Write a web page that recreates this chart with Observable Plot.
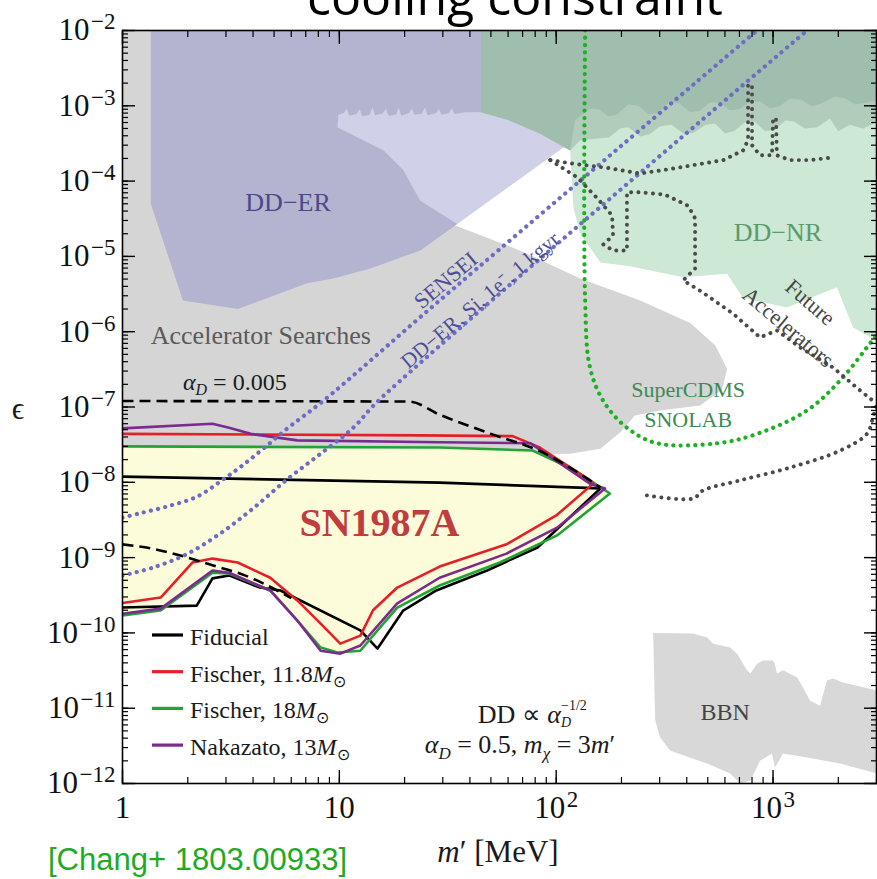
<!DOCTYPE html>
<html><head><meta charset="utf-8">
<script src="https://cdn.jsdelivr.net/npm/d3@7"></script>
<script src="https://cdn.jsdelivr.net/npm/@observablehq/plot@0.6"></script>
<style>
body{margin:0;background:#fff;}
#chart{position:relative;width:877px;height:879px;overflow:hidden;}
</style>
</head><body><div id="chart"></div>
<script>
// ---------- data: [m' (MeV), epsilon] ----------
const acceleratorSearches = [[1,1e-2],[34,1e-2],[34,2.6e-5],[68,1.2e-5],[129,5.1e-6],[244,2.6e-6],[415,1.3e-6],[541,6.6e-7],[614,3.2e-7],[582,1.7e-7],[461,1.05e-7],[301,9e-8],[231,7.7e-8],[197,4.6e-8],[160,2.8e-8],[116,2.4e-8],[29,2.3e-8],[1,2.3e-8]];
const bbn = [[280,1.0e-10],[428,9.8e-11],[497,8.7e-11],[529,7.2e-11],[634,6.4e-11],[683,5.3e-11],[759,3.2e-11],[787,2.9e-11],[844,3.9e-11],[899,4.3e-11],[1000,4.3e-11],[1021,3.8e-11],[1042,2.9e-11],[1112,3.2e-11],[1291,2.56e-11],[1375,1.88e-11],[1482,1.26e-11],[1648,1.08e-11],[1774,2.33e-11],[1890,2.48e-11],[2100,2.19e-11],[3000,1.72e-11],[3000,1.36e-12],[2040,1.85e-12],[1435,2.22e-12],[1112,2.5e-12],[1021,1.63e-12],[989,2.5e-12],[871,2.0e-12],[787,1.1e-12],[705,1e-12],[634,1.36e-12],[497,1.85e-12],[415,2.2e-12],[335,2.74e-12],[301,4.1e-12],[286,6.9e-12]];
const ddErMain = [[1.35,1e-2],[45,1e-2],[45,2.55e-4],[35,2.7e-5],[23.6,1.2e-5],[13.9,6.9e-6],[9.4,5.1e-6],[7.1,4.4e-6],[3.4,2.0e-6],[1.9,2.6e-6],[1.35,5e-5]];
const ddErExtended = [[9.8,5.2e-4],[9.9,7.6e-4],[10.5,8.0e-4],[10.8,9.3e-4],[11.1,7.4e-4],[12,7.8e-4],[12.4,9.0e-4],[12.8,7.2e-4],[13.8,7.6e-4],[14.2,9.6e-4],[14.6,7.5e-4],[15.8,7.9e-4],[16.4,9.1e-4],[16.9,7.3e-4],[18.3,7.7e-4],[18.8,9.4e-4],[19.3,7.4e-4],[21,8.0e-4],[21.6,9.2e-4],[22.2,7.6e-4],[24,7.9e-4],[24.8,9.5e-4],[25.5,7.5e-4],[28,8.0e-4],[28.8,9.1e-4],[29.6,7.6e-4],[32,8.0e-4],[33,9.3e-4],[34,7.8e-4],[38,8.2e-4],[45,8.2e-4],[160,8.2e-4],[160,2.55e-4],[108,2.8e-4],[35,2.7e-5],[23.6,5.5e-5],[19.7,1.4e-4],[16,2.55e-4]];
const ddNrLight = [[116,1.2e-3],[3000,1.2e-3],[3000,7.6e-7],[2340,1.14e-6],[1970,3.9e-6],[1160,2.1e-6],[727,2.8e-6],[614,5.9e-6],[385,5.3e-6],[219,7.4e-6],[160,8.3e-6],[129,2e-5],[120,4.5e-5],[116,2.55e-4]];
const ddNrBand = [[45,1e-2],[3000,1e-2],[3000,6e-4],[2600,5.0e-4],[2260,5.6e-4],[2000,4.6e-4],[1830,6.8e-4],[1600,5.2e-4],[1400,5e-4],[1250,6.2e-4],[1140,6.4e-4],[1020,4.8e-4],[920,4.6e-4],[820,6.2e-4],[740,6e-4],[660,4.6e-4],[600,4.3e-4],[540,5.8e-4],[490,5.6e-4],[430,4.4e-4],[390,4.2e-4],[340,5.6e-4],[300,5.3e-4],[270,4.2e-4],[244,3.9e-4],[215,5.2e-4],[197,5e-4],[175,3.8e-4],[160,3.7e-4],[129,3.5e-4],[116,2.55e-4],[84,4.3e-4],[60,6.5e-4],[45,8.2e-4]];
const ddNrDark = [[45,1e-2],[3000,1e-2],[3000,1.17e-3],[2650,1.1e-3],[2390,1.04e-3],[2150,1.25e-3],[1930,1.33e-3],[1700,1.1e-3],[1510,9.8e-4],[1350,1.2e-3],[1200,1.25e-3],[1080,1.0e-3],[970,9.2e-4],[870,1.15e-3],[770,1.11e-3],[700,9.0e-4],[630,8.7e-4],[570,1.1e-3],[510,1.11e-3],[460,8.6e-4],[415,8.2e-4],[370,1.08e-3],[330,1.11e-3],[295,8.0e-4],[265,7.7e-4],[240,1.0e-3],[215,1.04e-3],[190,7.6e-4],[174,7.2e-4],[158,9.0e-4],[143,9.2e-4],[122,6.4e-4],[116,2.55e-4],[84,4.3e-4],[60,6.5e-4],[45,8.2e-4]];

// SN1987A cooling contours (upper branch to tip, then lower branch back)
const fiducial = [[1,1.19e-8],[29,9.9e-9],[160,8.3e-9],[82,1.36e-9],[48,6.75e-10],[28,3.66e-10],[19.7,1.98e-10],[15,6.2e-11],[12.5,1.08e-10],[5.35,3.66e-10],[4.3,4.0e-10],[3.1,5.8e-10],[2.6,5.3e-10],[2.2,2.3e-10],[1,2.17e-10]];
const fischer118 = [[1,4.4e-8],[23.6,4.2e-8],[63,4.1e-8],[84,2.9e-8],[143,1.06e-8],[148,9.6e-9],[101,3.7e-9],[59,1.5e-9],[29,7.6e-10],[18.5,4.0e-10],[14.3,2.0e-10],[12.5,9.2e-11],[10.1,7.2e-11],[8.2,1.33e-10],[6.4,2.7e-10],[4.8,5.4e-10],[3.4,8.6e-10],[2.6,9.7e-10],[2.1,8.6e-10],[1.5,2.95e-10],[1,2.5e-10]];
const fischer18 = [[1,3.0e-8],[29,2.9e-8],[78,2.64e-8],[122,1.44e-8],[177,7.1e-9],[101,1.97e-9],[55,8.6e-10],[29,4.26e-10],[18.5,2.17e-10],[15,1.08e-10],[12.5,5.8e-11],[9.8,5.5e-11],[8.2,6.4e-11],[6.4,1.46e-10],[4.8,3.66e-10],[3.1,6.15e-10],[2.6,6.3e-10],[1.5,1.98e-10],[1,1.7e-10]];
const nakazato13 = [[1,5.2e-8],[2.6,6.0e-8],[3.1,5.3e-8],[3.9,4.4e-8],[6.4,3.6e-8],[29,3.4e-8],[76,3.3e-8],[143,9.6e-9],[168,8.3e-9],[101,2.5e-9],[59,1.13e-9],[29,5.4e-10],[18.5,2.46e-10],[12.5,6.8e-11],[10.1,5.3e-11],[8.2,5.8e-11],[6.4,1.46e-10],[4.8,3.66e-10],[3.1,6.3e-10],[2.6,6.75e-10],[1.5,2.1e-10],[1,1.8e-10]];

// alpha_D = 0.005 dashed contour pieces
const alphaSmallUpper = [[1,1.2e-7],[21,1.18e-7],[29,7.9e-8],[50,4.4e-8],[84,2.6e-8],[143,1.06e-8],[160,8.5e-9]];
const alphaSmallLower = [[1,1.5e-9],[1.4,1.3e-9],[2,1.0e-9],[2.8,7.4e-10],[3.5,6.1e-10],[6,2.9e-10]];

// projections (dotted)
const sensei = [[1,3.4e-9],[1.21,3.9e-9],[1.66,4.9e-9],[2.22,6.5e-9],[2.83,1.03e-8],[3.5,1.6e-8],[4.46,2.8e-8],[5.76,5.2e-8],[8.35,1.18e-7],[29,2.6e-6],[844,1e-2]];
const ddErSi = [[1,5.8e-10],[1.39,7.4e-10],[2,1.13e-9],[2.83,2.1e-9],[4,4.5e-9],[5.76,1.1e-8],[8.2,2.4e-8],[11.6,5.3e-8],[15,1.18e-7],[1435,1e-2]];
const superCdms = [[136,1e-2],[136,2.6e-6],[143,3.4e-7],[165,1.2e-7],[212,5.3e-8],[292,3.3e-8],[552,3.3e-8],[844,4.4e-8],[1435,9e-8],[2040,2.25e-7],[2800,7e-7],[3000,9e-7]];
const futureAccA = [[94,1.9e-4],[120,1.7e-4],[172,1.5e-4],[244,1.26e-4],[346,1.47e-4],[589,1.9e-4],[727,2.55e-4],[767,3.5e-4],[767,1.9e-3],[800,1.9e-3],[800,3.0e-4],[871,2.2e-4],[989,2.2e-4],[1000,6.8e-4],[1032,6.8e-4],[1042,2.2e-4],[1200,1.9e-4],[1480,1.9e-4],[1890,2.06e-4]];
const futureAccB = [[94,1.9e-4],[125,1.12e-4],[154,6.0e-5],[181,3.5e-5],[183,1.9e-5],[165,1.44e-5],[183,1.2e-5],[212,1.2e-5],[212,7.1e-5],[244,7.1e-5],[318,6.6e-5],[406,4.7e-5],[437,3.2e-5],[437,6.9e-6],[385,4.8e-6],[461,3.5e-6],[654,1.74e-6],[871,8.4e-7],[1042,1.04e-6],[1330,6.2e-7],[1890,3.35e-7],[2520,1.66e-7],[3000,1.11e-7]];
const futureAccC = [[262,6.7e-9],[428,6.1e-9],[476,7.8e-9],[705,1.06e-8],[1200,1.57e-8],[2040,2.64e-8],[2710,4.4e-8],[2890,7.3e-8],[3000,1.05e-7]];

// labels
const labelNames = ["DD−ER","DD−NR","Accelerator Searches","SENSEI","DD−ER, Si, 1e⁻, 1 kgyr","Future","Accelerators","SuperCDMS","SNOLAB","BBN","SN1987A"];
const labelMass  = [5.8, 1054, 1.35, 31, 44.6, 1482, 1172, 406, 406, 601, 15.3];
const labelEps   = [5.2e-5, 2.07e-5, 8.9e-7, 4.8e-6, 2.6e-6, 2.44e-6, 1.14e-6, 1.66e-7, 6.8e-8, 8.8e-12, 2.84e-9];
const alphaSmallNote = [1.91, 1.66e-7];
const ddScalingNote = [43.7, 6.3e-12];
const benchmarkNote = [24.9, 2.5e-12];

// legend
const legendNames = ["Fiducial", "Fischer, 11.8", "Fischer, 18", "Nakazato, 13"];
const legendSolarMass = [false, true, true, true];

// axes
const xTickValues = [1, 10, 100, 1000];
const xTickLabels = ["1", "10", "10^2", "10^3"];
const yTickValues = [1e-2,1e-3,1e-4,1e-5,1e-6,1e-7,1e-8,1e-9,1e-10,1e-11,1e-12];
const yTickExponents = ["−2","−3","−4","−5","−6","−7","−8","−9","−10","−11","−12"];

// ---------- styles ----------
const serif = "'Liberation Serif','Times New Roman',serif";
const cBlack = "#000", cRed = "#e41f26", cGreen = "#22a336", cPurple = "#7b2a8e";
const cBlueDot = "#6d6dc4", cGreenDot = "#1db020", cGrayDot = "#4a4a4a";
const legendColors = [cBlack, cRed, cGreen, cPurple];

const X = d => d[0], Y = d => d[1];
const poly = (data, fill) => Plot.line(data, {x: X, y: Y, fill, stroke: "none", clip: true});
const solid = (data, stroke) => Plot.line(data, {x: X, y: Y, stroke, strokeWidth: 2.6, strokeLinejoin: "round", clip: true});
const dotted = (data, stroke, curve = "catmull-rom", w = 4.2) => Plot.line(data, {x: X, y: Y, stroke, strokeWidth: w, strokeDasharray: "0.1 7.2", strokeLinecap: "round", curve, clip: true});
const dashed = data => Plot.line(data, {x: X, y: Y, stroke: "black", strokeWidth: 2.6, strokeDasharray: "11 6", strokeLinecap: "butt", curve: "monotone-x", clip: true});
const lab = (i, opts) => Plot.text([i], {x: j => labelMass[j], y: j => labelEps[j], text: j => labelNames[j], fontFamily: serif, lineAnchor: "middle", ...opts});

const plot = Plot.plot({
  width: 877, height: 879,
  marginLeft: 122, marginRight: 1, marginTop: 30, marginBottom: 96,
  style: {fontFamily: serif, background: "white", overflow: "visible"},
  x: {type: "log", domain: [1, 3000], label: null},
  y: {type: "log", domain: [1e-12, 1e-2], label: null},
  marks: [
    poly(acceleratorSearches, "#d5d5d5"),
    poly(bbn, "#d8d8d8"),
    poly(ddErMain, "#b4b4d0"),
    poly(ddErExtended, "#d0d0e9"),
    poly(ddNrLight, "#cde8d4"),
    poly(ddNrBand, "#b2ccbc"),
    poly(ddNrDark, "#a0bead"),
    poly(fischer18, "#fdfcda"),
    solid(fiducial, cBlack),
    solid(fischer18, cGreen),
    solid(fischer118, cRed),
    solid(nakazato13, cPurple),
    dashed(alphaSmallUpper),
    dashed(alphaSmallLower),
    dotted(sensei, cBlueDot),
    dotted(ddErSi, cBlueDot),
    dotted(superCdms, cGreenDot),
    dotted(futureAccA, cGrayDot, "linear", 3.9),
    dotted(futureAccB, cGrayDot, "linear", 3.9),
    dotted(futureAccC, cGrayDot, "catmull-rom", 3.9),
    lab(0, {fill: "#4a4a8a", fontSize: 26}),
    lab(1, {fill: "#5b9a6c", fontSize: 26}),
    lab(2, {fill: "#5a5a5a", fontSize: 26, textAnchor: "start"}),
    lab(3, {fill: "#4d4d96", fontSize: 22, rotate: -40}),
    lab(4, {fill: "#4d4d96", fontSize: 21, rotate: -40}),
    lab(5, {fill: "#444", fontSize: 22, rotate: 41}),
    lab(6, {fill: "#444", fontSize: 22, rotate: 40}),
    lab(7, {fill: "#3d8a52", fontSize: 22}),
    lab(8, {fill: "#3d8a52", fontSize: 22}),
    lab(9, {fill: "#444", fontSize: 24}),
    lab(10, {fill: "#c13c3e", fontSize: 40, fontWeight: "bold"}),
    // minor ticks (inward)
    Plot.axisX({anchor: "bottom", ticks: 40, tickSize: -6, tickFormat: () => "", label: null, strokeWidth: 1.2}),
    Plot.axisX({anchor: "top", ticks: 40, tickSize: -6, tickFormat: () => "", label: null, strokeWidth: 1.2}),
    Plot.axisY({anchor: "left", ticks: 40, tickSize: -6, tickFormat: () => "", label: null, strokeWidth: 1.2}),
    Plot.axisY({anchor: "right", ticks: 40, tickSize: -6, tickFormat: () => "", label: null, strokeWidth: 1.2}),
    // major ticks (inward)
    Plot.axisX(xTickValues, {anchor: "top", tickSize: -13, tickFormat: () => "", label: null, strokeWidth: 1.4}),
    Plot.axisY(yTickValues, {anchor: "right", tickSize: -13, tickFormat: () => "", label: null, strokeWidth: 1.4}),
    Plot.axisX(xTickValues, {anchor: "bottom", tickSize: -13, tickFormat: () => "", label: null, strokeWidth: 1.4}),
    Plot.axisY(yTickValues, {anchor: "left", tickSize: -13, tickFormat: () => "", label: null, strokeWidth: 1.4}),
    // tick labels
    Plot.axisX(xTickValues, {anchor: "bottom", tickSize: 0, tickPadding: 12, fontSize: 31, fontFamily: serif, fill: "#111",
      tickFormat: d => xTickLabels[xTickValues.indexOf(d)], label: null}),
    Plot.axisY(yTickValues, {anchor: "left", tickSize: 0, tickPadding: 7, fontSize: 31, fontFamily: serif, fill: "#111",
      tickFormat: d => "10^" + yTickExponents[yTickValues.indexOf(d)], label: null}),
    Plot.frame({stroke: "black", strokeWidth: 1.6})
  ]
});

document.getElementById("chart").append(plot);
const svg = d3.select(plot);

// serif tick labels with superscript exponents
const tickLabelTexts = [];
svg.selectAll("text").each(function () {
  const s = this.textContent;
  const isTick = s.includes("^") || xTickLabels.includes(s);
  if (isTick) tickLabelTexts.push(this);
  if (s.includes("^")) {
    const [b, e] = s.split("^");
    const t = d3.select(this);
    t.text(b);
    t.append("tspan").attr("dx", 1.5).attr("dy", -11).attr("font-size", 23).text(e);
  }
});
for (const el of tickLabelTexts) {
  el.style.fontFamily = serif;
  el.style.fontVariant = "normal";
  el.setAttribute("font-family", serif);
}

const sx = plot.scale("x"), sy = plot.scale("y");
function rich(px, py, parts, {size = 26, anchor = "start", fill = "#1a1a1a", family = serif} = {}) {
  const t = svg.append("text").attr("x", px).attr("y", py).attr("font-size", size)
    .attr("text-anchor", anchor).attr("fill", fill).attr("font-family", family);
  for (const p of parts) {
    const ts = t.append("tspan").text(p.t);
    if (p.i) ts.attr("font-style", "italic");
    if (p.s) ts.attr("font-size", p.s);
    if (p.dy) ts.attr("dy", p.dy);
    if (p.dx) ts.attr("dx", p.dx);
  }
  return t;
}

// annotations
rich(sx.apply(alphaSmallNote[0]), sy.apply(alphaSmallNote[1]),
  [{t: "α", i: 1}, {t: "D", i: 1, s: 16, dy: 5}, {t: " = 0.005", dy: -5}], {size: 24});
rich(sx.apply(ddScalingNote[0]), sy.apply(ddScalingNote[1]),
  [{t: "DD ∝ "}, {t: "α", i: 1}, {t: "D", i: 1, s: 14, dy: 4}, {t: "−1/2", s: 14, dx: -10, dy: -17}], {size: 26});
rich(sx.apply(benchmarkNote[0]), sy.apply(benchmarkNote[1]),
  [{t: "α", i: 1}, {t: "D", i: 1, s: 17, dy: 6}, {t: " = 0.5, ", dy: -6}, {t: "m", i: 1}, {t: "χ", i: 1, s: 17, dy: 6},
   {t: " = 3", dy: -6}, {t: "m", i: 1}, {t: "′"}], {size: 26});

// legend
legendNames.forEach((name, i) => {
  const y = 635 + i * 36.7;
  svg.append("line").attr("x1", 152).attr("x2", 183).attr("y1", y).attr("y2", y)
    .attr("stroke", legendColors[i]).attr("stroke-width", 3.2);
  const parts = [{t: name}];
  if (legendSolarMass[i]) parts.push({t: "M", i: 1}, {t: "⊙", s: 16, dy: 5});
  rich(190, y + 10, parts, {size: 24});
});

// axis titles, title, caption
rich(498, 862, [{t: "m", i: 1}, {t: "′ [MeV]"}], {size: 31, anchor: "middle"});
rich(18, 419, [{t: "ϵ"}], {size: 31, anchor: "middle"});
rich(515, 15, [{t: "cooling constraint"}], {size: 50, anchor: "middle", fill: "#000", family: "'Open Sans', sans-serif"});
rich(48, 870, [{t: "[Chang+ 1803.00933]"}], {size: 31, fill: "#1faa1f", family: "'Liberation Sans', Arial, sans-serif"});
</script>
</body></html>
